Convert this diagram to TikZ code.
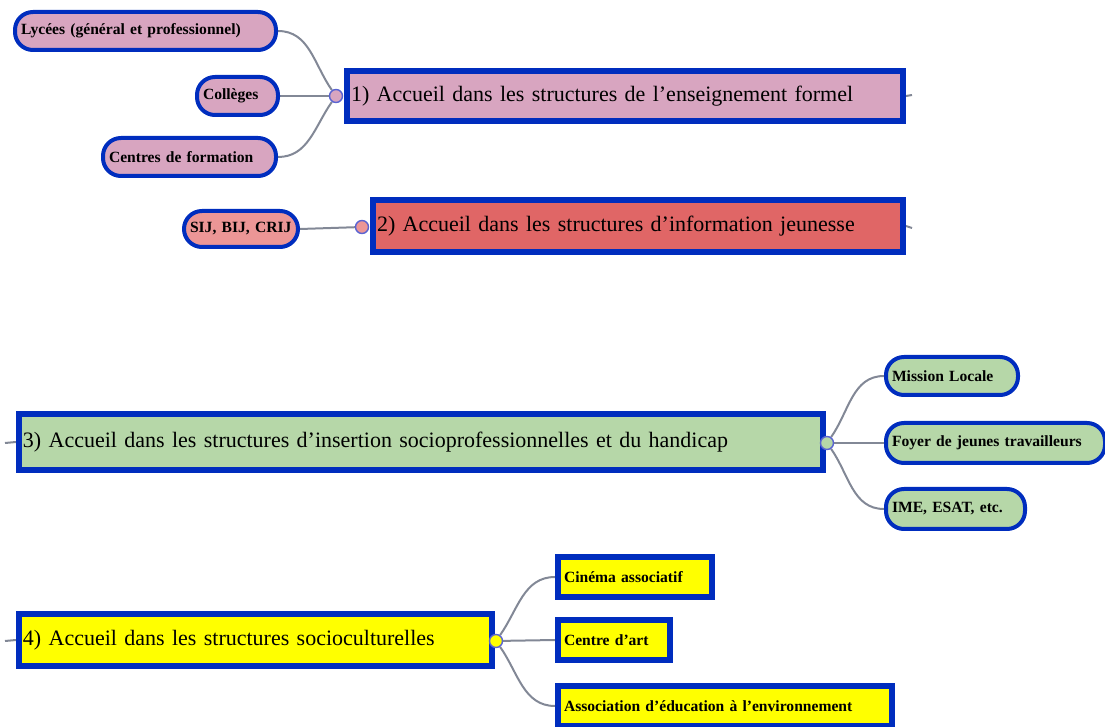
\documentclass[tikz,border=0pt]{standalone}
\usepackage{fontspec}
\setmainfont{Liberation Serif}
\usetikzlibrary{positioning, backgrounds}
\definecolor{mmblue}{RGB}{0,45,190}
\definecolor{mmknob}{RGB}{90,100,210}
\definecolor{mmgray}{RGB}{130,136,150}
\definecolor{mmpink}{RGB}{216,165,192}
\definecolor{mmred}{RGB}{224,102,102}
\definecolor{mmsalmon}{RGB}{236,150,150}
\definecolor{mmgreen}{RGB}{182,215,168}
\definecolor{mmyellow}{RGB}{255,255,0}

\begin{document}
\begin{tikzpicture}[x=0.5pt, y=-0.5pt,
  main/.style={rectangle, draw=mmblue, line width=3pt, anchor=west,
               align=left, inner xsep=2pt, inner ysep=0pt,
               font=\fontsize{11}{13}\selectfont},
  leaf/.style={rectangle, rounded corners=9pt, draw=mmblue, line width=2pt,
               align=left, inner xsep=3pt, inner ysep=0pt, minimum height=19pt,
               font=\fontsize{7.8}{9}\selectfont\bfseries},
  sqleaf/.style={rectangle, draw=mmblue, line width=3pt, anchor=west,
               align=left, inner xsep=3pt, inner ysep=0pt, minimum height=20pt,
               fill=mmyellow, font=\fontsize{7.8}{9}\selectfont\bfseries},
  knob/.style={circle, draw=mmknob, line width=0.7pt, minimum size=6.5pt,
               inner sep=0pt},
  link/.style={draw=mmgray, line width=1pt}]
  \useasboundingbox (0,0) rectangle (1105,727);

  % Main branches
  \node[main, fill=mmpink, text width=274pt, minimum height=25pt] (acc1) at (344,96)
    {1) Accueil dans les structures de l'enseignement formel};
  \node[main, fill=mmred, text width=261pt, minimum height=26pt] (acc2) at (370,226)
    {2) Accueil dans les structures d'information jeunesse};
  \node[main, fill=mmgreen, text width=398pt, minimum height=28pt] (acc3) at (16,442)
    {3) Accueil dans les structures d'insertion socioprofessionnelles et du handicap};
  \node[main, fill=mmyellow, text width=232.5pt, minimum height=26pt] (acc4) at (16,640)
    {4) Accueil dans les structures socioculturelles};

  % Knobs
  \node[knob, fill=mmpink] (k1) at (336,96) {};
  \node[knob, fill=mmsalmon] (k2) at (362,227) {};
  \node[knob, fill=mmgreen] (k3) at (827,443) {};
  \node[knob, fill=mmyellow] (k4) at (496,641) {};

  % Free ends
  \coordinate (e1) at (912,95);
  \coordinate (e2) at (912,228);
  \coordinate (w3) at (5,443);
  \coordinate (w4) at (5,641);

  % Leaves of branch 1
  \node[leaf, fill=mmpink, anchor=east, text width=124.5pt] (lycees) at (278,31)
    {Lycées (général et professionnel)};
  \node[leaf, fill=mmpink, anchor=east, text width=34.5pt] (colleges) at (280,96)
    {Collèges};
  \node[leaf, fill=mmpink, anchor=east, text width=80.5pt] (centres) at (278,157)
    {Centres de formation};

  % Leaf of branch 2
  \node[leaf, fill=mmsalmon, anchor=east, text width=51pt, minimum height=18pt] (sij) at (300,229)
    {SIJ, BIJ, CRIJ};

  % Leaves of branch 3
  \node[leaf, fill=mmgreen, anchor=west, text width=60pt] (mission) at (884,376)
    {Mission Locale};
  \node[leaf, fill=mmgreen, anchor=west, text width=103.5pt, minimum height=20pt] (foyer) at (884,443)
    {Foyer de jeunes travailleurs};
  \node[leaf, fill=mmgreen, anchor=west, text width=63.5pt, minimum height=20pt] (ime) at (884,509)
    {IME, ESAT, etc.};

  % Leaves of branch 4
  \node[sqleaf, text width=71pt] (cinema) at (555,577) {Cinéma associatif};
  \node[sqleaf, text width=50pt] (art) at (555,640) {Centre d'art};
  \node[sqleaf, text width=161pt] (asso) at (555,706)
    {Association d'éducation à l'environnement};

  % Connectors
  \begin{scope}[on background layer]
    \draw[link] (lycees.east) to[out=0, in=125] (k1);
    \draw[link] (colleges.east) -- (k1);
    \draw[link] (centres.east) to[out=0, in=235] (k1);
    \draw[link] (sij.east) -- (k2);
    \draw[link] (k3) to[out=55, in=180] (mission.west);
    \draw[link] (k3) -- (foyer.west);
    \draw[link] (k3) to[out=-55, in=180] (ime.west);
    \draw[link] (k4) to[out=55, in=180] (cinema.west);
    \draw[link] (k4) -- (art.west);
    \draw[link] (k4) to[out=-55, in=180] (asso.west);
    \draw[link] (acc1.east) -- (e1);
    \draw[link] (acc2.east) -- (e2);
    \draw[link] (acc3.west) -- (w3);
    \draw[link] (acc4.west) -- (w4);
  \end{scope}
\end{tikzpicture}
\end{document}
